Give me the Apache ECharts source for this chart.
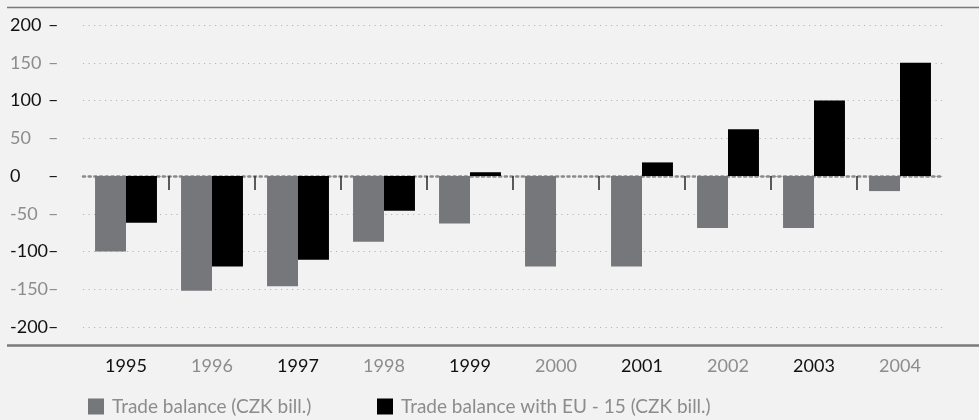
<!DOCTYPE html>
<html>
<head>
<meta charset="utf-8">
<script src="https://cdn.jsdelivr.net/npm/echarts@6/dist/echarts.min.js"></script>
<style>
html,body{margin:0;padding:0;background:#f2f2f2;}
#c{width:979px;height:420px;}
</style>
</head>
<body>
<div id="c"></div>
<script>
var years = ['1995','1996','1997','1998','1999','2000','2001','2002','2003','2004'];
var tradeBalance = [-100, -152, -146, -87, -63, -120, -120, -69, -69, -20];
var tradeBalanceEU = [-62, -120, -111, -46, 5, null, 18, 62, 100, 150];
var seriesNames = ['Trade balance (CZK bill.)', 'Trade balance with EU - 15 (CZK bill.)'];
var yTicks = [-200, -150, -100, -50, 0, 50, 100, 150, 200];

var FONT = "Lato, 'Open Sans', sans-serif";
var BLACK = '#111111', GRAY = '#8c8c8c';
var FS = 18;
var LFS = 19;

// boundaries for tick marks (n+1 positions)
var boundaries = [];
for (var i = 0; i <= years.length; i++) boundaries.push(String(i));

var chart = echarts.init(document.getElementById('c'));
chart.setOption({
  backgroundColor: '#f2f2f2',
  animation: false,
  textStyle: {fontFamily: FONT},
  grid: {left: 83, right: 36, top: 25, bottom: 93, containLabel: false},
  legend: [
    {data: [seriesNames[0]], left: 83, top: 392, itemWidth: 16, itemHeight: 16, icon: 'rect', itemGap: 10,
     textStyle: {fontFamily: FONT, fontSize: LFS, color: GRAY, padding: [0,0,0,3]}},
    {data: [seriesNames[1]], left: 372, top: 392, itemWidth: 16, itemHeight: 16, icon: 'rect', itemGap: 10,
     textStyle: {fontFamily: FONT, fontSize: LFS, color: GRAY, padding: [0,0,0,3]}}
  ],
  xAxis: [
    {
      type: 'category', data: years, position: 'bottom', offset: 19,
      axisLine: {show: false, onZero: false}, axisTick: {show: false}, splitLine: {show: false},
      axisLabel: {margin: 11, fontFamily: FONT, fontSize: FS,
        color: function (v, idx) { return years.indexOf(v) % 2 === 0 ? BLACK : GRAY; }}
    },
    {
      type: 'category', data: boundaries, boundaryGap: false, position: 'bottom',
      axisLine: {show: true, onZero: true, lineStyle: {color: '#8a8a8a', width: 2.5, type: [2, 3.7]}},
      axisTick: {show: true, length: 14, lineStyle: {color: '#333', width: 1.6},
        interval: function (idx) { return idx > 0 && idx < years.length; }},
      axisLabel: {show: false}, splitLine: {show: false}
    }
  ],
  yAxis: {
    type: 'value', min: -200, max: 200, interval: 50,
    axisLine: {show: false}, axisTick: {show: false},
    splitLine: {show: true, lineStyle: {color: '#b5b5b5', width: 1, type: [1.2, 4.3]}},
    axisLabel: {
      align: 'left', margin: 73,
      formatter: function (v) {
        var k = (Math.abs(v) / 50) % 2 === 0 ? 'b' : 'g';
        return '{' + k + '|' + v + '}{' + k + 'd|–}';
      },
      rich: {
        b: {color: BLACK, fontFamily: FONT, fontSize: FS, width: 38, align: 'left'},
        g: {color: GRAY, fontFamily: FONT, fontSize: FS, width: 38, align: 'left'},
        bd: {color: BLACK, fontFamily: FONT, fontSize: FS},
        gd: {color: GRAY, fontFamily: FONT, fontSize: FS}
      }
    }
  },
  series: [
    {name: seriesNames[0], type: 'bar', data: tradeBalance, xAxisIndex: 0, barGap: '0%', barCategoryGap: '28%',
     itemStyle: {color: '#76777b'}},
    {name: seriesNames[1], type: 'bar', data: tradeBalanceEU, xAxisIndex: 0, barGap: '0%', barCategoryGap: '28%',
     itemStyle: {color: '#000000'}}
  ],
  graphic: [
    {type: 'line', shape: {x1: 7, y1: 7.5, x2: 979, y2: 7.5}, style: {stroke: '#7a7a7a', lineWidth: 1.5}, silent: true},
    {type: 'line', shape: {x1: 7, y1: 345.5, x2: 979, y2: 345.5}, style: {stroke: '#7a7a7a', lineWidth: 2.5}, silent: true}
  ]
});
</script>
</body>
</html>
